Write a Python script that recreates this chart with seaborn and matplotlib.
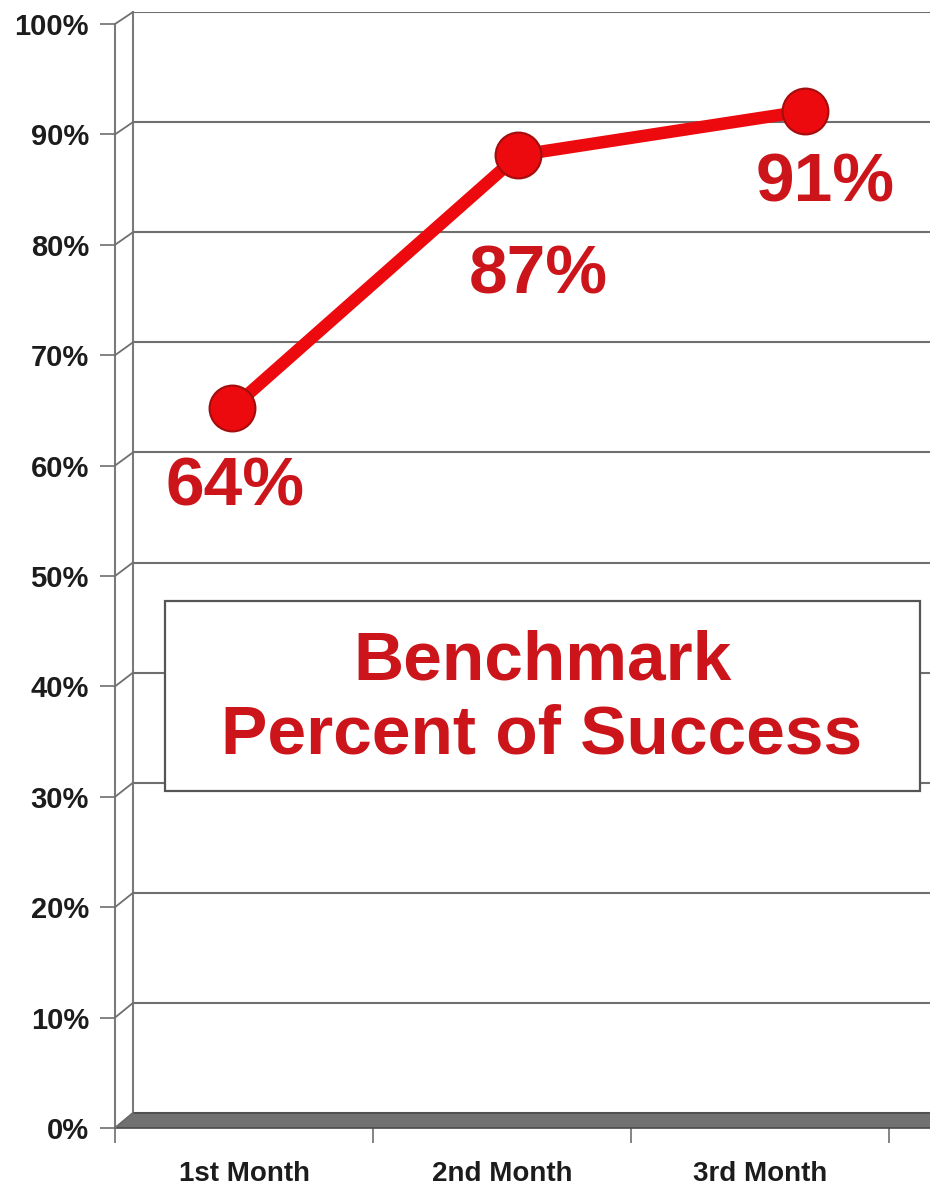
import matplotlib
matplotlib.use("Agg")
import matplotlib.pyplot as plt
from matplotlib.patches import Polygon, Rectangle
from matplotlib.lines import Line2D
import seaborn as sns
import pandas as pd

# ---- data ----
months = ["1st Month", "2nd Month", "3rd Month"]
success_pct = [64, 87, 91]
y_ticks = list(range(0, 101, 10))
y_tick_labels = [f"{v}%" for v in y_ticks]
title_text = "Benchmark\nPercent of Success"

# ---- style ----
sns.set_style("white")
plt.rcParams["font.family"] = ["Liberation Sans", "DejaVu Sans"]

RED_LINE = "#ec0a0e"
RED_EDGE = "#a30d0d"
RED_TEXT = "#cc151b"
GRID = "#6f6f6f"
AXIS = "#7a7a7a"

W, H = 930, 1188
fig = plt.figure(figsize=(W / 100, H / 100), dpi=100, facecolor="white")


def fx(x):
    return x / W


def fy(y):
    return 1 - y / H


# back wall (gridlines + data line) and front plane (axis, ticks, labels)
back = dict(left=133, right=940, top=12, bottom=1113)
front = dict(left=115, right=940, top=24, bottom=1128)

ax_back = fig.add_axes([fx(back["left"]), fy(back["bottom"]),
                        (back["right"] - back["left"]) / W,
                        (back["bottom"] - back["top"]) / H])
ax_front = fig.add_axes([fx(front["left"]), fy(front["bottom"]),
                         (front["right"] - front["left"]) / W,
                         (front["bottom"] - front["top"]) / H])

# back wall
ax_back.set_facecolor("white")
ax_back.set_ylim(0, 100)
ax_back.set_yticks(y_ticks)
ax_back.yaxis.grid(True, color=GRID, lw=1.5)
ax_back.xaxis.grid(False)
ax_back.tick_params(left=False, bottom=False, labelleft=False, labelbottom=False)
for side in ("top", "right", "bottom"):
    ax_back.spines[side].set_visible(False)
ax_back.spines["left"].set_color(AXIS)
ax_back.spines["left"].set_linewidth(1.5)

df = pd.DataFrame({"month": months, "pct": success_pct})
sns.lineplot(data=df, x="month", y="pct", ax=ax_back, color=RED_LINE,
             lw=9, marker="o", markersize=33, markerfacecolor=RED_LINE,
             markeredgecolor=RED_EDGE, markeredgewidth=1.5, zorder=5,
             clip_on=False)
ax_back.set_xlim(-0.3455, -0.3455 + (back["right"] - back["left"]) / 286.5)
ax_back.set_ylim(0, 100)
ax_back.set_xlabel("")
ax_back.set_ylabel("")
ax_back.set_xticks([])

label_offsets = [(3, -79), (20, -120), (20, -72)]
for i, (v, off) in enumerate(zip(success_pct, label_offsets)):
    ax_back.annotate(f"{v}%", (i, v), xytext=off, textcoords="offset pixels",
                     ha="center", va="center", fontsize=50, fontweight="bold",
                     color=RED_TEXT, zorder=6)

# front plane
ax_front.patch.set_alpha(0)
ax_front.set_ylim(0, 100)
ax_front.set_xlim(-0.5, -0.5 + (front["right"] - front["left"]) / 258)
ax_front.set_yticks(y_ticks, labels=y_tick_labels)
ax_front.set_xticks(range(len(months)), labels=months)
ax_front.set_xticks([-0.5, 0.5, 1.5, 2.5], minor=True)
ax_front.grid(False)
ax_front.tick_params(axis="y", length=10.8, width=1.3, color=AXIS, pad=8,
                     labelsize=21, left=True)
ax_front.tick_params(axis="x", which="major", length=0, pad=24, labelsize=20,
                     bottom=True)
ax_front.tick_params(axis="x", which="minor", length=10.8, width=1.3,
                     color=AXIS, bottom=True)
for lab in ax_front.get_xticklabels() + ax_front.get_yticklabels():
    lab.set_fontweight("bold")
    lab.set_color("#1c1c1c")
for side in ("top", "right", "bottom"):
    ax_front.spines[side].set_visible(False)
ax_front.spines["left"].set_color(AXIS)
ax_front.spines["left"].set_linewidth(1.5)

# side-wall connectors between front axis and back wall
for v in y_ticks:
    yf = front["bottom"] - v / 100 * (front["bottom"] - front["top"])
    yb = back["bottom"] - v / 100 * (back["bottom"] - back["top"])
    fig.add_artist(Line2D([fx(front["left"]), fx(back["left"])],
                          [fy(yf), fy(yb)], color=GRID, lw=1.3))

# floor
floor = Polygon([(fx(front["left"]), fy(front["bottom"])),
                 (fx(back["left"]), fy(back["bottom"])),
                 (fx(W + 10), fy(back["bottom"])),
                 (fx(W + 10), fy(front["bottom"]))],
                closed=True, facecolor="#717171", edgecolor="#4a4a4a",
                lw=1.2, transform=fig.transFigure)
fig.add_artist(floor)

# title box
box = Rectangle((fx(165), fy(791)), (920 - 165) / W, (791 - 601) / H,
                transform=fig.transFigure, facecolor="white",
                edgecolor="#555555", lw=1.6, zorder=3)
fig.add_artist(box)
fig.text(fx(542), fy(699), title_text, ha="center", va="center",
         multialignment="center", fontsize=50, fontweight="bold",
         color=RED_TEXT, linespacing=1.2, zorder=4)

fig.savefig("out.png", dpi=100, facecolor="white")
